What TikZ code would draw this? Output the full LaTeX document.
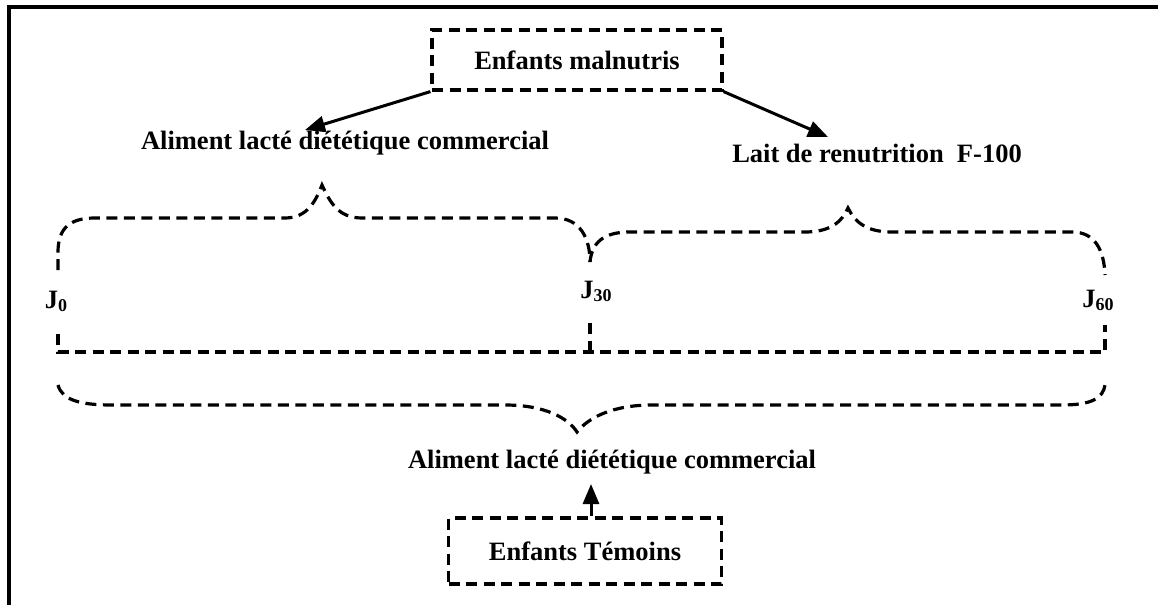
\documentclass[tikz,border=0pt]{standalone}
\usepackage{fontspec}
\setmainfont{Liberation Serif}
\usetikzlibrary{arrows.meta}
\newcommand{\daylabel}[1]{J{\fontsize{18}{18}\selectfont\raisebox{-3pt}{#1}}}
\begin{document}
\begin{tikzpicture}[x=1pt,y=-1pt,
  every node/.style={font=\fontsize{26.5}{30}\selectfont\bfseries, inner sep=0pt},
  dbox/.style={draw, line width=3.2pt, dash pattern=on 11pt off 6.5pt, minimum width=#1, minimum height=60pt},
  dline/.style={line width=3.2pt, dash pattern=on 11pt off 6.5pt},
  arr/.style={line width=3pt, -{Triangle[length=20pt,width=16pt]}}]
\useasboundingbox (0,0) rectangle (1158,605);
% outer frame (top and left edges)
\draw[line width=3.5pt] (1158,7) -- (9,7) -- (9,605);

% groups of children
\node[dbox=290pt] (mal) at (577,60) {Enfants malnutris};
\node[dbox=273pt, minimum height=66pt] (tem) at (585,551) {Enfants Témoins};

% diets
\node (almal) at (345,143) {Aliment lacté diététique commercial};
\node (f100) at (877,153) {Lait de renutrition\ \ F-100};
\node (altem) at (612,462) {Aliment lacté diététique commercial};

% days
\node (j0) at (56,301) {\daylabel{0}};
\node (j30) at (596,291) {\daylabel{30}};
\node (j60) at (1098,300) {\daylabel{60}};

% arrows
\coordinate (malL) at (305,130);
\coordinate (malR) at (828,137);
\draw[arr] (mal.south west) -- (malL);
\draw[arr] (mal.south east) -- (malR);
\coordinate (temT) at (591,484);
\draw[arr] (tem.north -| temT) -- (temT);

% upper braces
\draw[dline] (58,270) -- (58,252) .. controls (58,228) and (70,218) .. (95,218)
  -- (285,218) .. controls (308,218) and (316,200) .. (322,185)
  .. controls (330,202) and (338,218) .. (362,218)
  -- (555,218) .. controls (580,218) and (590,238) .. (590,262);
\draw[dline] (590,262) .. controls (592,242) and (604,232) .. (630,232)
  -- (805,232) .. controls (830,232) and (842,222) .. (848,208)
  .. controls (855,222) and (866,232) .. (892,232)
  -- (1072,232) .. controls (1095,232) and (1104,250) .. (1105,275);

% period bracket
\draw[dline] (58,334) -- (58,352) -- (1105,352) -- (1105,325);
\draw[dline] (590,323) -- (590,352);

% lower brace
\draw[dline] (58,385) .. controls (62,400) and (80,405) .. (112,405)
  -- (505,405) .. controls (545,405) and (568,418) .. (577,432)
  .. controls (588,418) and (612,405) .. (652,405)
  -- (1062,405) .. controls (1092,405) and (1103,398) .. (1105,385);
\end{tikzpicture}
\end{document}
